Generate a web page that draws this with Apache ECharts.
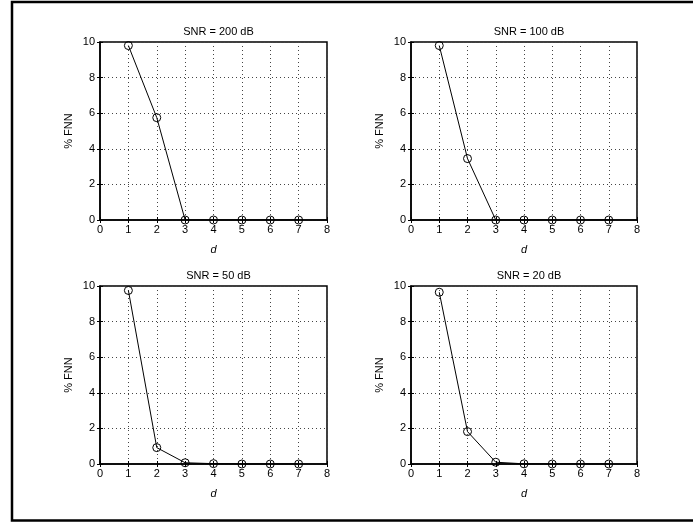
<!DOCTYPE html>
<html>
<head>
<meta charset="utf-8">
<script src="https://cdn.jsdelivr.net/npm/echarts@6/dist/echarts.min.js"></script>
<style>html,body{margin:0;padding:0;background:#fff;}#c{width:693px;height:522px;}</style>
</head>
<body>
<div id="c"></div>
<script>
var dValues = [1, 2, 3, 4, 5, 6, 7];
var titles = ['SNR = 200 dB', 'SNR = 100 dB', 'SNR = 50 dB', 'SNR = 20 dB'];
var fnn200 = [9.8, 5.75, 0, 0, 0, 0, 0];
var fnn100 = [9.8, 3.45, 0, 0, 0, 0, 0];
var fnn50 = [9.75, 0.92, 0.07, 0.02, 0, 0, 0];
var fnn20 = [9.65, 1.82, 0.1, 0.01, 0, 0, 0];
var xTicks = ['0','1','2','3','4','5','6','7','8'];
var yTicks = ['0','2','4','6','8','10'];
var allSeries = [fnn200, fnn100, fnn50, fnn20];

var FONT = 'Liberation Sans';
var grids = [
  {left: 100, top: 42, width: 227, height: 178},
  {left: 411, top: 42, width: 226, height: 178},
  {left: 100, top: 286, width: 227, height: 178},
  {left: 411, top: 286, width: 226, height: 178}
];
var option = {
  animation: false,
  backgroundColor: '#fff',
  title: [], grid: [], xAxis: [], yAxis: [], series: [],
  graphic: [{
    type: 'rect', shape: {x: 12, y: 2, width: 720, height: 518.5},
    style: {fill: 'none', stroke: '#000', lineWidth: 2.5}, z: 100
  }]
};
var grid_dotted = {show: true, lineStyle: {color: '#444', type: [1, 3], width: 1}};
for (var i = 0; i < 4; i++) {
  var g = grids[i];
  option.grid.push({left: g.left, top: g.top, width: g.width, height: g.height,
    show: true, borderColor: '#000', borderWidth: 1.5, backgroundColor: 'transparent'});
  option.title.push({text: titles[i], left: g.left + g.width / 2, top: g.top - 21, textAlign: 'center',
    textStyle: {fontFamily: FONT, fontSize: 11, fontWeight: 'normal', color: '#000'}});
  option.xAxis.push({type: 'value', gridIndex: i, min: 0, max: 8, interval: 1,
    name: 'd', nameLocation: 'middle', nameGap: 24,
    nameTextStyle: {fontFamily: FONT, fontSize: 11, fontStyle: 'italic', color: '#000'},
    axisLine: {show: true, lineStyle: {color: '#000', width: 1.5}},
    axisTick: {show: true, inside: true, length: 3, lineStyle: {color: '#000'}},
    axisLabel: {fontFamily: FONT, fontSize: 11, color: '#000', margin: 4,
      formatter: function (v) { return xTicks[Math.round(v)]; }},
    splitLine: grid_dotted});
  option.xAxis.push({type: 'value', gridIndex: i, min: 0, max: 8, interval: 1, position: 'top',
    axisLine: {show: false}, axisTick: {show: true, inside: true, length: 3, lineStyle: {color: '#000'}},
    axisLabel: {show: false}, splitLine: {show: false}});
  option.yAxis.push({type: 'value', gridIndex: i, min: 0, max: 10, interval: 2,
    name: '% FNN', nameLocation: 'middle', nameGap: 26, nameRotate: 90,
    nameTextStyle: {fontFamily: FONT, fontSize: 11, color: '#000'},
    axisLine: {show: true, lineStyle: {color: '#000', width: 1.5}},
    axisTick: {show: true, inside: true, length: 3, lineStyle: {color: '#000'}},
    axisLabel: {fontFamily: FONT, fontSize: 11, color: '#000', margin: 5,
      formatter: function (v) { return yTicks[Math.round(v / 2)]; }},
    splitLine: grid_dotted});
  option.yAxis.push({type: 'value', gridIndex: i, min: 0, max: 10, interval: 2, position: 'right',
    axisLine: {show: false}, axisTick: {show: true, inside: true, length: 3, lineStyle: {color: '#000'}},
    axisLabel: {show: false}, splitLine: {show: false}});
  var data = dValues.map(function (d, k) { return [d, allSeries[i][k]]; });
  option.series.push({type: 'line', xAxisIndex: 2 * i, yAxisIndex: 2 * i, data: data,
    symbol: 'circle', symbolSize: 8, showSymbol: true,
    lineStyle: {color: '#000', width: 1},
    itemStyle: {color: 'none', borderColor: '#000', borderWidth: 1}, z: 10});
}
var chart = echarts.init(document.getElementById('c'), null, {renderer: 'canvas'});
chart.setOption(option);
</script>
</body>
</html>
